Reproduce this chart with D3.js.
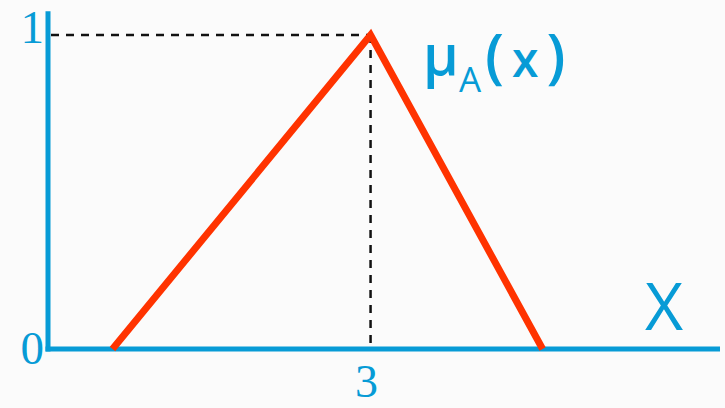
<!DOCTYPE html>
<html><head><meta charset="utf-8">
<script src="https://cdn.jsdelivr.net/npm/d3@7"></script>
<style>html,body{margin:0;padding:0;background:#fbfbfb;}svg{display:block;}</style>
</head><body>
<svg id="c" width="725" height="408"></svg>
<script>
const xPoints = [0.6, 3, 4.6];      // triangle feet and apex
const yPoints = [0, 1, 0];
const yTickValues = [0, 1];
const yTickLabels = ["0", "1"];
const xTickValues = [3];
const xTickLabels = ["3"];
const curveLabel = "μ";
const curveSub = "A";
const curveArg = ["(", "x", ")"];
const axisLabel = "X";

const blue = "#079bd6", red = "#ff3300";
const svg = d3.select("#c");
const x = d3.scaleLinear().domain([0, 6.25]).range([48, 720]);
const y = d3.scaleLinear().domain([0, 1]).range([349, 35]);

// dashed guides
const apexX = xPoints[1], apexY = yPoints[1];
svg.append("line").attr("x1", x(0)+3).attr("x2", x(apexX)).attr("y1", y(apexY)).attr("y2", y(apexY))
  .attr("stroke", "#111").attr("stroke-width", 2.5).attr("stroke-dasharray", "8,7");
svg.append("line").attr("x1", x(apexX)).attr("x2", x(apexX)).attr("y1", y(apexY)).attr("y2", y(0)-2)
  .attr("stroke", "#111").attr("stroke-width", 2.5).attr("stroke-dasharray", "8,7");

// axes
svg.append("line").attr("x1", x(0)).attr("x2", x(0)).attr("y1", y(1.076)).attr("y2", y(0)+2.5)
  .attr("stroke", blue).attr("stroke-width", 5);
svg.append("line").attr("x1", x(0)-2.5).attr("x2", x(6.25)).attr("y1", y(0)).attr("y2", y(0))
  .attr("stroke", blue).attr("stroke-width", 5);

// triangle
const line = d3.line().x(d => x(d[0])).y(d => y(d[1]));
svg.append("path").datum(xPoints.map((v, i) => [v, yPoints[i]]))
  .attr("d", line).attr("fill", "none").attr("stroke", red).attr("stroke-width", 7)
  .attr("stroke-linejoin", "miter");

// tick labels
const serif = "'Liberation Serif', 'Times New Roman', serif";
svg.selectAll("text.yt").data(yTickValues).enter().append("text").attr("class", "yt")
  .attr("x", 44).attr("y", d => y(d) + (d === 1 ? 8 : 15))
  .attr("text-anchor", "end").attr("font-family", serif).attr("font-size", 47).attr("fill", blue)
  .text((d, i) => yTickLabels[i]);
svg.selectAll("text.xt").data(xTickValues).enter().append("text").attr("class", "xt")
  .attr("x", d => x(d) - 4).attr("y", 397)
  .attr("text-anchor", "middle").attr("font-family", serif).attr("font-size", 46).attr("fill", blue)
  .text((d, i) => xTickLabels[i]);

// curve label
const sans = "'Open Sans', sans-serif";
svg.append("text").attr("x", 423).attr("y", 75).attr("font-family", sans).attr("font-size", 56)
  .attr("font-weight", 600).attr("fill", blue).text(curveLabel);
svg.append("text").attr("x", 459).attr("y", 92).attr("font-family", sans).attr("font-size", 35)
  .attr("fill", blue).text(curveSub);
const arg = svg.append("text").attr("x", 485).attr("y", 77).attr("font-family", sans)
  .attr("font-weight", 600).attr("fill", blue);
arg.append("tspan").attr("font-size", 60).text(curveArg[0]);
arg.append("tspan").attr("font-size", 48).attr("dx", 8).text(curveArg[1]);
arg.append("tspan").attr("font-size", 60).attr("dx", 8).text(curveArg[2]);

// axis label
svg.append("text").attr("x", 645).attr("y", 330).attr("font-family", sans).attr("font-size", 66)
  .attr("fill", blue).text(axisLabel);
</script>
</body></html>
